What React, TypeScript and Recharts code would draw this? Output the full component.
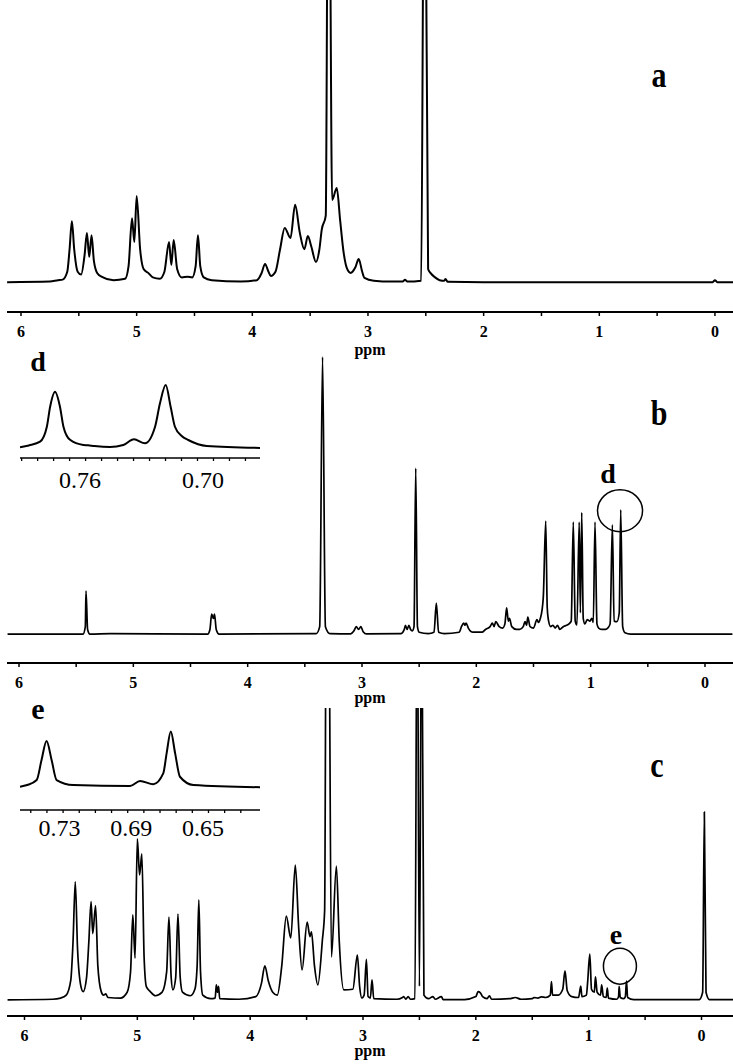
import { LineChart, Line, XAxis, YAxis, ReferenceDot, Label } from 'recharts'

const SERIF = "'Liberation Serif', 'Times New Roman', Times, serif"

// spectra as [ppm, intensity]; intensity 0 = baseline, 100 = top of the panel
const SPEC_A: [number, number][] = [
  [6.12, 0.3], [5.75, 0.5], [5.68, 1.0], [5.64, 1.2], [5.6, 4], [5.58, 12], [5.56, 22], [5.54, 12],
  [5.51, 4], [5.48, 3], [5.45, 10], [5.43, 17.8], [5.41, 9.3], [5.39, 17], [5.37, 8], [5.34, 3.5],
  [5.3, 2.2], [5.2, 1.0], [5.1, 1.5], [5.07, 6], [5.04, 23], [5.02, 14.6], [5.0, 31], [4.97, 12],
  [4.94, 5], [4.9, 3.6], [4.86, 2], [4.8, 1.5], [4.76, 4], [4.72, 14.6], [4.7, 6.4], [4.68, 15.3],
  [4.65, 5], [4.61, 2], [4.56, 2.2], [4.52, 2], [4.49, 6], [4.47, 17], [4.45, 6], [4.42, 2],
  [4.35, 1], [4.1, 0.5], [3.96, 1], [3.92, 3.5], [3.89, 6.8], [3.86, 4], [3.84, 2.5], [3.8, 4],
  [3.76, 12], [3.72, 19.6], [3.67, 16], [3.63, 27.8], [3.59, 18], [3.55, 12], [3.52, 16.7],
  [3.49, 13], [3.45, 7.5], [3.42, 12], [3.4, 18.9], [3.365, 24], [3.345, 160], [3.335, 160],
  [3.31, 29.5], [3.27, 33.8], [3.24, 22], [3.21, 10.7], [3.18, 5], [3.15, 3.6], [3.11, 5.5],
  [3.08, 8.5], [3.05, 4], [3.03, 1.8], [2.95, 0.8], [2.8, 0.5], [2.7, 0.5], [2.68, 1.2],
  [2.66, 0.5], [2.54, 0.8], [2.515, 160], [2.505, 160], [2.48, 5], [2.46, 3.6], [2.42, 2],
  [2.38, 1], [2.34, 0.8], [2.33, 1.4], [2.31, 0.4], [2.0, 0.3], [1.0, 0.3], [0.02, 0.3],
  [0.0, 1.0], [-0.02, 0.3], [-0.16, 0.3],
]

const SPEC_B: [number, number][] = [
  [6.1, 0.3], [5.44, 0.3], [5.42, 3], [5.414, 15.8], [5.4, 2], [5.38, 0.3], [5.2, 0.5],
  [4.35, 0.3], [4.33, 2], [4.315, 7.5], [4.3, 6], [4.29, 7.5], [4.275, 2], [4.25, 0.3],
  [3.4, 0.5], [3.37, 3], [3.345, 100], [3.32, 3], [3.28, 0.5], [3.1, 0.4], [3.07, 1.5],
  [3.05, 3], [3.03, 2], [3.01, 3], [2.99, 1.2], [2.96, 0.4], [2.66, 0.5], [2.63, 2],
  [2.62, 3.5], [2.605, 2], [2.59, 3.5], [2.575, 2], [2.56, 1.5], [2.545, 3], [2.53, 60],
  [2.515, 3], [2.5, 1], [2.42, 0.5], [2.37, 1], [2.35, 11.5], [2.33, 1], [2.28, 0.5],
  [2.15, 1], [2.13, 3], [2.11, 4.3], [2.1, 3.5], [2.09, 4.3], [2.07, 2.5], [2.03, 1],
  [1.95, 1], [1.92, 2], [1.88, 3], [1.86, 4.3], [1.845, 3], [1.83, 4.8], [1.8, 3],
  [1.77, 2.5], [1.75, 4], [1.735, 9.8], [1.72, 5], [1.71, 6], [1.69, 3], [1.65, 2],
  [1.62, 2], [1.59, 3], [1.574, 4.8], [1.56, 3.5], [1.55, 6.4], [1.53, 3], [1.5, 2.5],
  [1.47, 5.5], [1.455, 4.5], [1.44, 6], [1.425, 9], [1.414, 13.8], [1.393, 41], [1.38, 10],
  [1.37, 5.5], [1.35, 3], [1.33, 3.5], [1.31, 2.5], [1.29, 3.5], [1.27, 2], [1.24, 3],
  [1.21, 3.5], [1.19, 4], [1.17, 5], [1.152, 40.6], [1.135, 5], [1.12, 3.6], [1.1, 40.6],
  [1.09, 8], [1.078, 44], [1.065, 6], [1.05, 4], [1.03, 5.5], [1.006, 5], [0.99, 6],
  [0.977, 4.5], [0.962, 40.6], [0.945, 4], [0.93, 2.5], [0.9, 2], [0.87, 2], [0.85, 2.5],
  [0.83, 4], [0.81, 39.6], [0.795, 5], [0.77, 4.8], [0.75, 8], [0.737, 45], [0.72, 3],
  [0.7, 0.8], [0.65, 0.3], [-0.24, 0.3],
]

const SPEC_C: [number, number][] = [
  [6.15, 0.4], [5.75, 0.6], [5.68, 1.0], [5.63, 2], [5.59, 7], [5.57, 20], [5.55, 40.7],
  [5.53, 18], [5.5, 5], [5.48, 3.2], [5.45, 8], [5.43, 20], [5.41, 33.9], [5.395, 23],
  [5.37, 32.6], [5.35, 12], [5.32, 3.2], [5.3, 2.0], [5.28, 2.4], [5.26, 1.2], [5.15, 1],
  [5.09, 3], [5.06, 10], [5.04, 29.4], [5.02, 14.6], [5.0, 55.3], [4.98, 43], [4.96, 50.2],
  [4.94, 15], [4.92, 4.9], [4.885, 3.2], [4.84, 1.8], [4.78, 3], [4.74, 10], [4.72, 28.6],
  [4.7, 8], [4.685, 3.8], [4.66, 8], [4.64, 29.7], [4.62, 8], [4.6, 3], [4.53, 1.8],
  [4.49, 4], [4.47, 12], [4.455, 34.5], [4.44, 10], [4.42, 2], [4.35, 0.8], [4.31, 1],
  [4.3, 5.5], [4.29, 3], [4.28, 5], [4.27, 0.8], [4.1, 0.6], [3.95, 1.5], [3.9, 6],
  [3.87, 12], [3.84, 7], [3.8, 3], [3.76, 2], [3.72, 12], [3.68, 29], [3.64, 21.5],
  [3.6, 46.4], [3.57, 25], [3.54, 10.6], [3.495, 26.9], [3.47, 22], [3.457, 23.6],
  [3.43, 12], [3.4, 5.5], [3.36, 20.8], [3.34, 31], [3.325, 150], [3.305, 150], [3.28, 15],
  [3.236, 46], [3.21, 20], [3.17, 3.8], [3.09, 4], [3.05, 15.7], [3.03, 5], [3.01, 1],
  [2.99, 2], [2.97, 14.2], [2.955, 1.5], [2.935, 1], [2.92, 7.2], [2.905, 0.8], [2.7, 0.6],
  [2.65, 1.2], [2.64, 1.5], [2.62, 0.6], [2.6, 1.5], [2.58, 0.6], [2.54, 0.8], [2.52, 150],
  [2.5, 5], [2.48, 150], [2.46, 2], [2.42, 0.8], [2.38, 1.5], [2.36, 0.6], [2.305, 1.5],
  [2.29, 0.5], [2.1, 0.5], [2.0, 1.5], [1.98, 3.2], [1.96, 2.8], [1.94, 1.5], [1.9, 0.8],
  [1.88, 1.8], [1.86, 0.6], [1.7, 0.8], [1.65, 1.2], [1.6, 0.6], [1.5, 0.8], [1.485, 1.2],
  [1.45, 1], [1.42, 1.4], [1.38, 1.2], [1.34, 2], [1.33, 6.6], [1.32, 2], [1.27, 2],
  [1.23, 4], [1.21, 10.3], [1.19, 3.5], [1.15, 1.5], [1.09, 1.2], [1.07, 5.1], [1.06, 1.5],
  [1.02, 2], [1.01, 6], [0.99, 16], [0.975, 4], [0.95, 3], [0.94, 8.2], [0.925, 3],
  [0.895, 2], [0.885, 5.5], [0.87, 1.5], [0.845, 1.2], [0.835, 4.4], [0.825, 1], [0.75, 0.6],
  [0.735, 1.5], [0.73, 5], [0.72, 1.2], [0.69, 0.8], [0.675, 1.5], [0.665, 6.8], [0.655, 1.2],
  [0.6, 0.5], [0.02, 0.5], [-0.01, 3], [-0.025, 64.5], [-0.04, 3], [-0.07, 0.5], [-0.3, 0.5],
]

// expanded views of the two methyl signals (d in b, e in c)
const INSET_D: [number, number][] = [
  [0.7893, 0], [0.785, 3], [0.7795, 9], [0.7762, 33], [0.7746, 65], [0.7722, 89], [0.7698, 65],
  [0.7681, 33], [0.7649, 12], [0.7584, 3.7], [0.7561, 3.2], [0.753, 2], [0.7454, 0.5],
  [0.7389, 3.7], [0.7337, 12.8], [0.7283, 6.4], [0.7234, 33], [0.721, 70.6], [0.7182, 100],
  [0.7158, 65], [0.7137, 33], [0.7104, 18], [0.7072, 11.7], [0.6982, 2], [0.6722, -1],
]

const INSET_E: [number, number][] = [
  [0.752, 0], [0.748, 3], [0.7427, 12], [0.74, 48.5], [0.7372, 83], [0.7344, 48.5],
  [0.7316, 12], [0.7223, 3], [0.6907, 1.3], [0.6851, 10.4], [0.6777, 4.4], [0.6722, 24],
  [0.6703, 61], [0.668, 100], [0.6656, 61], [0.6629, 18], [0.6554, 3], [0.6183, -1],
]

const MAIN_TICKS = [6, 5.5, 5, 4.5, 4, 3.5, 3, 2.5, 2, 1.5, 1, 0.5, 0]
const INSET_D_TICKS = [
  0.7885, 0.7807, 0.7729, 0.7651, 0.7573, 0.7495, 0.7417, 0.7339, 0.7261, 0.7183, 0.7105,
  0.7027, 0.6949, 0.6871, 0.6793,
]
const INSET_D_LABELS = [0.76, 0.7]
const INSET_E_TICKS = [
  0.746, 0.737, 0.728, 0.719, 0.71, 0.701, 0.692, 0.683, 0.674, 0.665, 0.656, 0.647, 0.638, 0.629,
]
const INSET_E_LABELS = [0.73, 0.69, 0.65]

const toRows = (spec: [number, number][]) => spec.map(([ppm, i]) => ({ ppm, i }))

function MainTick(props: any) {
  const { x, y, payload } = props
  const v = payload.value as number
  const major = Number.isInteger(v)
  return (
    <g>
      <line x1={x} x2={x} y1={y} y2={y + 4} stroke="#000" strokeWidth={1.5} />
      {major && (
        <text x={x} y={y + 19} textAnchor="middle" dominantBaseline="central"
          fontFamily={SERIF} fontWeight="bold" fontSize={16} fill="#000">
          {v}
        </text>
      )}
    </g>
  )
}

interface PanelProps {
  spec: [number, number][]
  top: number
  plotHeight: number
  xDomain: [number, number]
  yDomain: [number, number]
  strokeWidth: number
  ppmOffset: number
  circle?: { ppm: number; i: number; rx: number; ry: number }
}

function Panel({ spec, top, plotHeight, xDomain, yDomain, strokeWidth, ppmOffset, circle }: PanelProps) {
  return (
    <div style={{ position: 'absolute', left: 0, top }}>
      <LineChart width={733} height={plotHeight + 50} data={toRows(spec)}
        margin={{ top: 0, right: 0, bottom: 0, left: 7 }}>
        <XAxis dataKey="ppm" type="number" domain={xDomain} reversed allowDataOverflow
          ticks={MAIN_TICKS} interval={0} tick={<MainTick />} tickLine={false}
          tickSize={0} tickMargin={0} height={50}
          axisLine={{ stroke: '#000', strokeWidth: 2 }}>
          <Label value="ppm" position="insideBottom" offset={ppmOffset}
            fontFamily={SERIF} fontWeight="bold" fontSize={16} fill="#000" />
        </XAxis>
        <YAxis type="number" domain={yDomain} allowDataOverflow hide />
        <Line type="monotone" dataKey="i" stroke="#000" strokeWidth={strokeWidth}
          dot={false} activeDot={false} isAnimationActive={false} />
        {circle && (
          <ReferenceDot x={circle.ppm} y={circle.i} r={circle.rx}
            shape={(p: any) => (
              <ellipse cx={p.cx} cy={p.cy} rx={circle.rx} ry={circle.ry}
                fill="none" stroke="#000" strokeWidth={1.5} />
            )} />
        )}
      </LineChart>
    </div>
  )
}

interface InsetProps {
  spec: [number, number][]
  top: number
  plotHeight: number
  xDomain: [number, number]
  yDomain: [number, number]
  ticks: number[]
  labels: number[]
  labelDy: number
}

function Inset({ spec, top, plotHeight, xDomain, yDomain, ticks, labels, labelDy }: InsetProps) {
  const InsetTick = (props: any) => {
    const { x, y, payload } = props
    const v = payload.value as number
    return (
      <g>
        {ticks.includes(v) && <line x1={x} x2={x} y1={y} y2={y + 3} stroke="#000" strokeWidth={1.3} />}
        {labels.includes(v) && (
          <text x={x} y={y + labelDy} textAnchor="middle" dominantBaseline="central"
            fontFamily={SERIF} fontSize={24} fill="#000">
            {v.toFixed(2)}
          </text>
        )}
      </g>
    )
  }
  return (
    <div style={{ position: 'absolute', left: 20, top }}>
      <LineChart width={240} height={plotHeight + 40} data={toRows(spec)}
        margin={{ top: 0, right: 0, bottom: 0, left: 0 }}>
        <XAxis dataKey="ppm" type="number" domain={xDomain} reversed allowDataOverflow
          ticks={[...ticks, ...labels]} interval={0} tick={<InsetTick />} tickLine={false}
          tickSize={0} tickMargin={0} height={40}
          axisLine={{ stroke: '#000', strokeWidth: 1.5 }} />
        <YAxis type="number" domain={yDomain} allowDataOverflow hide />
        <Line type="monotone" dataKey="i" stroke="#000" strokeWidth={2}
          dot={false} activeDot={false} isAnimationActive={false} />
      </LineChart>
    </div>
  )
}

function Letter({ x, y, text, size, stretch = 1 }: { x: number; y: number; text: string; size: number; stretch?: number }) {
  return (
    <div style={{
      position: 'absolute', left: x, top: y, lineHeight: 1,
      transform: `translate(-50%, -50%) scaleY(${stretch})`,
      fontFamily: SERIF, fontWeight: 'bold', fontSize: size, color: '#000',
    }}>
      {text}
    </div>
  )
}

export default function App() {
  return (
    <div style={{ position: 'relative', width: 733, height: 1064, background: '#fff', overflow: 'hidden' }}>
      <style>{'body{margin:0}'}</style>
      <Panel spec={SPEC_A} top={0} plotHeight={312} xDomain={[-0.156, 6.121]}
        yDomain={[-10.32, 100.7]} strokeWidth={2} ppmOffset={7} />
      <Panel spec={SPEC_B} top={355} plotHeight={308} xDomain={[-0.245, 6.105]}
        yDomain={[-10.07, 100.7]} strokeWidth={1.7} ppmOffset={10}
        circle={{ ppm: 0.743, i: 44.7, rx: 22.5, ry: 21 }} />
      <Panel spec={SPEC_C} top={708} plotHeight={308} xDomain={[-0.279, 6.155]}
        yDomain={[-5.12, 100]} strokeWidth={1.7} ppmOffset={10}
        circle={{ ppm: 0.723, i: 11.9, rx: 16.5, ry: 18 }} />
      <Inset spec={INSET_D} top={380} plotHeight={78} xDomain={[0.6722, 0.7893]}
        yDomain={[-17.2, 108]} ticks={INSET_D_TICKS} labels={INSET_D_LABELS} labelDy={22} />
      <Inset spec={INSET_E} top={725} plotHeight={85} xDomain={[0.6183, 0.752]}
        yDomain={[-42.4, 112]} ticks={INSET_E_TICKS} labels={INSET_E_LABELS} labelDy={18} />
      <Letter x={659} y={75} text="a" size={30} stretch={1.2} />
      <Letter x={659} y={413} text="b" size={30} stretch={1.2} />
      <Letter x={657} y={765} text="c" size={30} stretch={1.2} />
      <Letter x={38} y={362} text="d" size={28} />
      <Letter x={38} y={709} text="e" size={30} />
      <Letter x={608} y={474} text="d" size={28} />
      <Letter x={616} y={935} text="e" size={28} />
    </div>
  )
}
